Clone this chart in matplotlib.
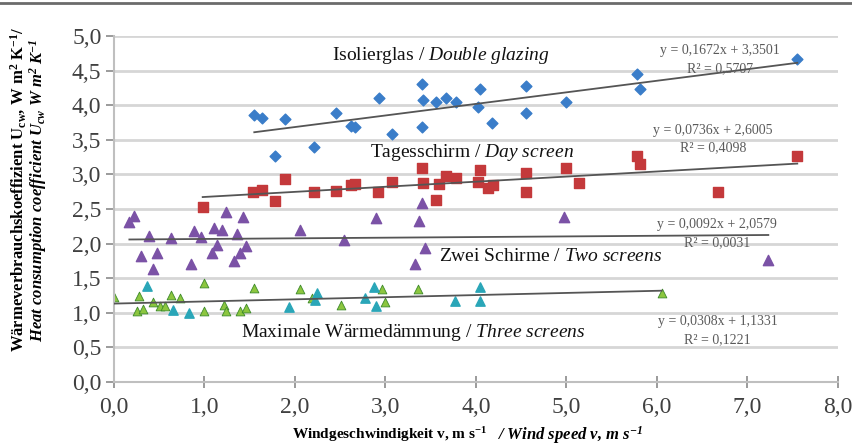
import matplotlib
matplotlib.use('Agg')
import matplotlib.pyplot as plt
from matplotlib.lines import Line2D
import numpy as np

plt.rcParams['font.family'] = 'Liberation Serif'
plt.rcParams['mathtext.fontset'] = 'custom'
plt.rcParams['mathtext.rm'] = 'Liberation Serif'
plt.rcParams['mathtext.it'] = 'Liberation Serif:italic'
plt.rcParams['mathtext.bf'] = 'Liberation Serif:bold'
plt.rcParams['mathtext.bfit'] = 'Liberation Serif:italic:bold'

# Isolierglas / Double glazing
glas_x = [1.55, 1.63, 1.89, 1.78, 2.21, 2.45, 2.62, 2.66, 2.93, 3.07, 3.40, 3.41, 3.40,
          3.56, 3.67, 3.78, 4.04, 4.02, 4.18, 4.55, 4.55, 4.99, 5.78, 5.81, 7.55]
glas_y = [3.86, 3.82, 3.80, 3.27, 3.39, 3.89, 3.70, 3.68, 4.11, 3.59, 4.30, 4.07, 3.68,
          4.04, 4.11, 4.04, 4.23, 3.98, 3.75, 4.28, 3.89, 4.04, 4.45, 4.24, 4.67]

# Tagesschirm / Day screen
day_x = [0.98, 1.54, 1.63, 1.89, 1.78, 2.21, 2.45, 2.62, 2.66, 2.92, 3.07, 3.40, 3.41,
         3.56, 3.59, 3.67, 3.78, 4.04, 4.02, 4.13, 4.19, 4.55, 4.55, 4.99, 5.14, 5.78,
         5.81, 6.67, 7.55]
day_y = [2.53, 2.75, 2.77, 2.93, 2.61, 2.74, 2.76, 2.85, 2.86, 2.75, 2.89, 3.09, 2.87,
         2.63, 2.86, 2.98, 2.95, 3.07, 2.89, 2.81, 2.84, 3.02, 2.75, 3.09, 2.88, 3.26,
         3.15, 2.74, 3.27]

# Zwei Schirme / Two screens
two_x = [0.17, 0.22, 0.39, 0.30, 0.48, 0.43, 0.63, 0.85, 0.88, 0.96, 1.08, 1.10, 1.14,
         1.19, 1.24, 1.33, 1.36, 1.39, 1.43, 1.46, 2.05, 2.54, 2.90, 3.40, 3.37, 3.44,
         3.33, 4.97, 7.23]
two_y = [2.31, 2.40, 2.11, 1.82, 1.87, 1.64, 2.08, 1.71, 2.18, 2.09, 1.87, 2.22, 1.98,
         2.20, 2.45, 1.75, 2.14, 1.86, 2.39, 1.96, 2.19, 2.05, 2.37, 2.58, 2.33, 1.93,
         1.71, 2.39, 1.77]

# Maximale Waermedaemmung / Three screens (green and cyan points)
three_g_x = [0.0, 0.28, 0.25, 0.32, 0.43, 0.51, 0.56, 0.63, 0.73, 1.0, 0.99, 1.21, 1.24,
             1.39, 1.46, 1.55, 2.05, 2.19, 2.51, 2.96, 3.00, 3.36, 6.05]
three_g_y = [1.23, 1.24, 1.02, 1.06, 1.15, 1.10, 1.10, 1.26, 1.21, 1.43, 1.02, 1.11, 1.03,
             1.02, 1.07, 1.36, 1.34, 1.21, 1.11, 1.34, 1.15, 1.34, 1.28]
three_c_x = [0.36, 0.65, 0.83, 1.93, 2.24, 2.22, 2.87, 2.77, 2.89, 3.77, 4.04, 4.04]
three_c_y = [1.39, 1.04, 1.00, 1.08, 1.28, 1.18, 1.37, 1.21, 1.10, 1.17, 1.38, 1.17]

# trend lines: slope, intercept, R2
trends = [(0.1672, 3.3501, 0.5707), (0.0736, 2.6005, 0.4098),
          (0.0092, 2.0579, 0.0031), (0.0308, 1.1331, 0.1221)]

fig = plt.figure(figsize=(8.53, 4.45), dpi=100)
ax = fig.add_axes([114 / 853, 1 - 382 / 445, (838 - 114) / 853, (382 - 36) / 445])

ax.set_xlim(0, 8)
ax.set_ylim(0, 5)
ax.set_xticks(np.arange(0, 8.01, 1))
ax.set_yticks(np.arange(0, 5.01, 0.5))
ax.set_xticklabels([('%.1f' % v).replace('.', ',') for v in np.arange(0, 8.01, 1)])
ax.set_yticklabels([('%.1f' % v).replace('.', ',') for v in np.arange(0, 5.01, 0.5)])
ax.tick_params(axis='both', labelsize=17, colors='#8a8a8a', labelcolor='#404040')
ax.tick_params(axis='y', length=6, width=1.2, pad=3)
ax.tick_params(axis='x', direction='inout', length=8, width=1.2, pad=7)
ax.grid(axis='y', color='#d6d6d6', linewidth=2)
ax.set_axisbelow(True)
for s in ['top', 'right']:
    ax.spines[s].set_visible(False)
for s in ['left', 'bottom']:
    ax.spines[s].set_color('#bfbfbf')
    ax.spines[s].set_linewidth(1.5)

series = [(glas_x, glas_y), (day_x, day_y), (two_x, two_y),
          (three_g_x + three_c_x, three_g_y + three_c_y)]
for (xs, ys), (m, b, r2) in zip(series, trends):
    xx = np.array([min(xs), max(xs)])
    ax.plot(xx, m * xx + b, color='#555555', linewidth=1.3, zorder=3)

ax.scatter(glas_x, glas_y, marker='D', s=30, color='#3a7dc9', zorder=2)
ax.scatter(day_x, day_y, marker='s', s=45, color='#c4393b', zorder=2)
ax.scatter(two_x, two_y, marker='^', s=55, color='#7b52a6', zorder=2)
ax.scatter(three_g_x, three_g_y, marker='^', s=40, color='#8cc63f',
           edgecolor='#3d8a2a', linewidth=0.6, zorder=2)
ax.scatter(three_c_x, three_c_y, marker='^', s=45, color='#2aa6b8', zorder=2)

# series labels
lab_kw = dict(fontsize=14, ha='center', va='center', color='#111111')
ax.text(3.61, 4.72, r'Isolierglas / $\mathit{Double\ glazing}$', **lab_kw)
ax.text(3.96, 3.31, r'Tagesschirm / $\mathit{Day\ screen}$', **lab_kw)
ax.text(4.82, 1.81, r'Zwei Schirme / $\mathit{Two\ screens}$', **lab_kw)
ax.text(3.31, 0.71, r'Maximale Wärmedämmung / $\mathit{Three\ screens}$', **lab_kw)

# equations
eq_pos = [(6.70, 4.79), (6.62, 3.64), (6.66, 2.27), (6.67, 0.87)]
for (m, b, r2), (px, py) in zip(trends, eq_pos):
    ax.text(px, py, ('y = %.4fx + %.4f' % (m, b)).replace('.', ','), fontsize=10,
            ha='center', va='center', color='#5a5a5a')
    ax.text(px, py - 0.26, ('R² = %.4f' % r2).replace('.', ','), fontsize=10,
            ha='center', va='center', color='#5a5a5a')

# axis titles
fig.text(18 / 853, 1 - 189 / 445,
         r'Wärmeverbrauchskoeffizient U$_{\mathbf{cw}}$, W m$^{\mathbf{2}}$ K$^{\mathbf{-1}}$/',
         rotation=90, fontsize=12, fontweight='bold', ha='center', va='center')
fig.text(38 / 853, 1 - 190 / 445,
         r'Heat consumption coefficient U$_{\mathbfit{cw}}$ W m$^{\mathbfit{2}}$ K$^{\mathbfit{-1}}$',
         rotation=90, fontsize=12, fontweight='bold', fontstyle='italic',
         ha='center', va='center')
fig.text(487 / 853, 1 - 435 / 445,
         r'Windgeschwindigkeit v, m s$^{\mathbf{-1}}$',
         fontsize=11, fontweight='bold', ha='right', va='center')
fig.text(497 / 853, 1 - 435 / 445,
         r'/ Wind speed v, m s$^{\mathbfit{-1}}$',
         fontsize=12, fontweight='bold', fontstyle='italic', ha='left', va='center')

fig.add_artist(Line2D([0, 1], [1 - 2.5 / 445, 1 - 2.5 / 445], color='#6b6b6b',
                      linewidth=2, transform=fig.transFigure))

fig.savefig('out.png', dpi=100)
